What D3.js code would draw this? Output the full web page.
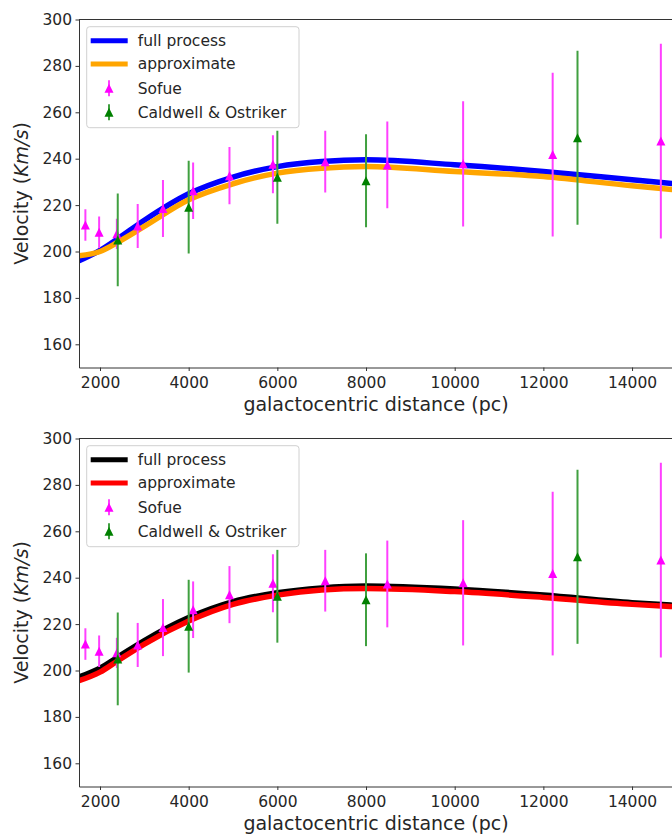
<!DOCTYPE html>
<html><head><meta charset="utf-8">
<script src="https://cdn.jsdelivr.net/npm/d3@7"></script>
<style>body{margin:0;background:#fff}</style>
</head><body><svg id="c" width="672" height="834"></svg>
<script>
// ---- data ----
const curveDistance = [1526, 2000, 2400, 3000, 4000, 5000, 6000, 7000, 8000, 10000, 12000, 14000, 14950];
const fullTop      = [196.0, 200.5, 205.5, 213.5, 224.9, 232.1, 236.6, 238.8, 239.5, 237.4, 234.5, 230.9, 229.2];
const approxTop    = [198.2, 200.0, 204.0, 210.8, 222.3, 229.2, 233.8, 235.9, 236.6, 234.5, 232.3, 228.3, 226.6];
const fullBottom   = [197.2, 201.0, 205.8, 212.9, 222.8, 229.7, 233.5, 235.6, 236.4, 235.1, 232.5, 229.2, 228.1];
const approxBottom = [195.6, 199.3, 204.2, 211.4, 221.3, 228.5, 232.5, 234.7, 235.3, 234.0, 231.5, 228.5, 227.5];

const sofueX   = [1670, 1980, 2380, 2850, 3420, 4100, 4920, 5900, 7080, 8480, 10190, 12210, 14650];
const sofueV   = [211.4, 208.3, 207.6, 211.0, 218.5, 226.2, 232.7, 237.6, 238.7, 237.3, 237.8, 241.8, 247.6];
const sofueErr = [6.8, 6.8, 6.5, 9.5, 12.3, 12.2, 12.3, 12.5, 13.3, 18.7, 27.0, 35.3, 42.0];

const caldX   = [2400, 4000, 6000, 8000, 12770];
const caldV   = [205.0, 219.1, 232.0, 230.5, 249.0];
const caldErr = [20, 20, 20, 20, 37.5];

const xTicks = [2000, 4000, 6000, 8000, 10000, 12000, 14000];
const yTicks = [160, 180, 200, 220, 240, 260, 280, 300];
const legendLabels = ["full process", "approximate", "Sofue", "Caldwell & Ostriker"];

// ---- drawing ----
const svg = d3.select("#c");
const FONT = "DejaVu Sans";
const x = d3.scaleLinear().domain([1526, 14924]).range([79, 673]);

const panels = [
  {top: 19.5, full: fullTop, approx: approxTop, fullColor: "#0000ff", approxColor: "#ffa500"},
  {top: 438.5, full: fullBottom, approx: approxBottom, fullColor: "#000000", approxColor: "#ff0000"}
];

const sofue = sofueX.map((d, i) => ({x: d, v: sofueV[i], e: sofueErr[i]}));
const cald = caldX.map((d, i) => ({x: d, v: caldV[i], e: caldErr[i]}));

function tri(cx, cy, s) {
  const h = s / 2;
  return `M${cx},${cy - h}L${cx - h},${cy + h}L${cx + h},${cy + h}Z`;
}

panels.forEach((p, pi) => {
  const bottom = p.top + 348;
  const y = d3.scaleLinear().domain([150, 300]).range([bottom, p.top]);
  const g = svg.append("g");
  const clipId = "clip" + pi;
  svg.append("clipPath").attr("id", clipId).append("rect")
    .attr("x", 79).attr("y", p.top).attr("width", 594).attr("height", 348);

  const plot = g.append("g").attr("clip-path", `url(#${clipId})`);
  const line = d3.line().x(d => x(d[0])).y(d => y(d[1])).curve(d3.curveMonotoneX);
  plot.append("path").datum(curveDistance.map((d, i) => [d, p.full[i]]))
    .attr("d", line).attr("fill", "none").attr("stroke", p.fullColor).attr("stroke-width", 5.5);
  plot.append("path").datum(curveDistance.map((d, i) => [d, p.approx[i]]))
    .attr("d", line).attr("fill", "none").attr("stroke", p.approxColor).attr("stroke-width", 5.5);

  function series(data, lineColor, markColor) {
    plot.selectAll(null).data(data).enter().append("line")
      .attr("x1", d => x(d.x)).attr("x2", d => x(d.x))
      .attr("y1", d => y(d.v - d.e)).attr("y2", d => y(d.v + d.e))
      .attr("stroke", lineColor).attr("stroke-width", 2);
    plot.selectAll(null).data(data).enter().append("path")
      .attr("d", d => tri(x(d.x), y(d.v), 9)).attr("fill", markColor);
  }
  series(sofue, "#ff40ff", "#ff00ff");
  series(cald, "#40a040", "#008000");

  // axes
  const ax = g.append("g").attr("transform", `translate(0,${bottom})`)
    .call(d3.axisBottom(x).tickValues(xTicks).tickSize(3.5).tickPadding(3.5).tickSizeOuter(0).tickFormat(d3.format("d")));
  const ay = g.append("g").attr("transform", `translate(79,0)`)
    .call(d3.axisLeft(y).tickValues(yTicks).tickSize(3.5).tickPadding(3.5).tickSizeOuter(0).tickFormat(d3.format("d")));
  [ax, ay].forEach(a => {
    a.selectAll("text").attr("font-family", FONT).attr("font-size", 15.5).attr("fill", "#262626");
    a.selectAll("line").attr("stroke", "#333");
    a.select(".domain").attr("stroke", "#333").attr("stroke-width", 1);
  });
  ax.selectAll("text").attr("dy", "0.9em");
  g.append("line").attr("x1", 79).attr("x2", 673).attr("y1", p.top).attr("y2", p.top)
    .attr("stroke", "#333").attr("stroke-width", 1);

  g.append("text").attr("x", 376).attr("y", bottom + 43.5).attr("text-anchor", "middle")
    .attr("font-family", FONT).attr("font-size", 19).attr("fill", "#262626")
    .text("galactocentric distance (pc)");
  const yl = g.append("text").attr("transform", `translate(28,${(p.top + bottom) / 2}) rotate(-90)`)
    .attr("text-anchor", "middle").attr("font-family", FONT).attr("font-size", 19).attr("fill", "#262626");
  yl.append("tspan").text("Velocity (");
  yl.append("tspan").attr("font-style", "italic").text("Km/s");
  yl.append("tspan").text(")");

  // legend
  const lg = g.append("g");
  lg.append("rect").attr("x", 86.7).attr("y", p.top + 7.2).attr("width", 212.3).attr("height", 101)
    .attr("rx", 3).attr("fill", "#fff").attr("fill-opacity", 0.8).attr("stroke", "#d0d0d0");
  const rows = [21.2, 44.5, 68.8, 92.8].map(v => p.top + v);
  const lineColors = [p.fullColor, p.approxColor];
  [0, 1].forEach(i => {
    lg.append("line").attr("x1", 90.7).attr("x2", 127.7).attr("y1", rows[i]).attr("y2", rows[i])
      .attr("stroke", lineColors[i]).attr("stroke-width", 5);
  });
  [["#ff40ff", "#ff00ff"], ["#40a040", "#008000"]].forEach((c, k) => {
    const ry = rows[2 + k];
    lg.append("line").attr("x1", 109).attr("x2", 109).attr("y1", ry - 8).attr("y2", ry + 8)
      .attr("stroke", c[0]).attr("stroke-width", 2);
    lg.append("path").attr("d", tri(109, ry, 9)).attr("fill", c[1]);
  });
  legendLabels.forEach((t, i) => {
    lg.append("text").attr("x", 137.7).attr("y", rows[i]).attr("dy", "0.35em")
      .attr("font-family", FONT).attr("font-size", 15.5).attr("fill", "#262626").text(t);
  });
});
</script></body></html>
